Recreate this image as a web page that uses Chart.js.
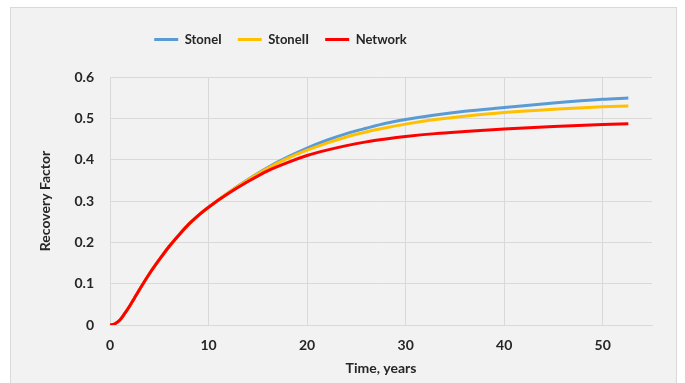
<!DOCTYPE html>
<html>
<head>
<meta charset="utf-8">
<script src="https://cdn.jsdelivr.net/npm/chart.js@4"></script>
<style>
  body { margin: 0; background: #ffffff; }
  #box {
    position: absolute;
    left: 10px;
    top: 7px;
    width: 665px;
    height: 378px;
    border: 1px solid #d9d9d9;
    background: #f2f2f2;
  }
  canvas { display: block; }
</style>
</head>
<body>
<div id="box"><canvas id="chart" width="665" height="378"></canvas></div>
<script>
// time axis (years)
const years = [0, 0.5, 1, 1.5, 2, 2.5, 3, 4, 5, 6, 7, 8, 9, 10, 12, 14, 16, 18, 20, 22, 24, 26, 28, 30, 33, 36, 40, 45, 50, 52.6];

const stoneI = [0, 0.003, 0.012, 0.028, 0.046, 0.066, 0.086, 0.124, 0.158, 0.19, 0.218, 0.244, 0.266, 0.285, 0.32, 0.352, 0.381, 0.406, 0.428, 0.447, 0.463, 0.476, 0.488, 0.497, 0.508, 0.517, 0.526, 0.537, 0.546, 0.549];
const stoneII = [0, 0.003, 0.012, 0.028, 0.046, 0.066, 0.086, 0.124, 0.158, 0.19, 0.218, 0.244, 0.266, 0.285, 0.32, 0.351, 0.379, 0.403, 0.423, 0.44, 0.455, 0.467, 0.477, 0.486, 0.497, 0.505, 0.514, 0.522, 0.528, 0.53];
const network = [0, 0.003, 0.012, 0.028, 0.046, 0.066, 0.086, 0.124, 0.158, 0.19, 0.218, 0.244, 0.266, 0.285, 0.318, 0.347, 0.373, 0.393, 0.41, 0.423, 0.434, 0.443, 0.45, 0.456, 0.463, 0.468, 0.474, 0.48, 0.485, 0.487];

const xTicks = [0, 10, 20, 30, 40, 50];
const yTicks = [0, 0.1, 0.2, 0.3, 0.4, 0.5, 0.6];

const textColor = "#262626";
const gridColor = "#d9d9d9";

function toPoints(values) {
  return values.map((v, i) => ({ x: years[i], y: v }));
}

// legend sits left of centre in the original
const legendShift = {
  id: "legendShift",
  beforeInit(chart) {
    const fit = chart.legend.fit;
    chart.legend.fit = function () {
      fit.bind(chart.legend)();
      this.height = 60;
    };
  },
  afterLayout(chart) {
    chart.legend.right -= 124;
  },
};

new Chart(document.getElementById("chart"), {
  type: "line",
  data: {
    datasets: [
      {
        label: "StoneI",
        data: toPoints(stoneI),
        borderColor: "#5b9bd5",
        backgroundColor: "#5b9bd5",
        borderWidth: 3,
        order: 3,
      },
      {
        label: "StoneII",
        data: toPoints(stoneII),
        borderColor: "#ffc000",
        backgroundColor: "#ffc000",
        borderWidth: 3,
        order: 2,
      },
      {
        label: "Network",
        data: toPoints(network),
        borderColor: "#ff0000",
        backgroundColor: "#ff0000",
        borderWidth: 3,
        order: 1,
      },
    ],
  },
  options: {
    responsive: false,
    animation: false,
    layout: {
      padding: { left: 22, right: 24, top: 9, bottom: 5 },
    },
    elements: {
      point: { radius: 0 },
      line: { cubicInterpolationMode: "monotone" },
    },
    scales: {
      x: {
        type: "linear",
        min: 0,
        max: 55,
        afterFit: (scale) => {
          scale.height = 56;
        },
        afterBuildTicks: (scale) => {
          scale.ticks = xTicks.map((v) => ({ value: v }));
        },
        ticks: {
          padding: 12,
          color: textColor,
          font: { family: "Lato", size: 14, weight: "bold" },
        },
        grid: { color: gridColor, drawTicks: false },
        border: { color: gridColor },
        title: {
          display: true,
          text: "Time, years",
          color: textColor,
          font: { family: "Lato", size: 14, weight: "bold" },
        },
      },
      y: {
        min: 0,
        max: 0.6,
        afterFit: (scale) => {
          scale.width = 77;
        },
        afterBuildTicks: (scale) => {
          scale.ticks = yTicks.map((v) => ({ value: v }));
        },
        ticks: {
          padding: 16,
          color: textColor,
          font: { family: "Lato", size: 14, weight: "bold" },
          callback: (v) => String(Math.round(v * 10) / 10),
        },
        grid: { color: gridColor, drawTicks: false },
        border: { color: gridColor },
        title: {
          display: true,
          text: "Recovery Factor",
          color: textColor,
          font: { family: "Lato", size: 14, weight: "bold" },
        },
      },
    },
    plugins: {
      legend: {
        position: "top",
        labels: {
          usePointStyle: true,
          pointStyle: "line",
          pointStyleWidth: 24,
          boxHeight: 13,
          padding: 16,
          color: textColor,
          font: { family: "Lato", size: 13, weight: "bold" },
          sort: (a, b) => a.datasetIndex - b.datasetIndex,
        },
      },
      tooltip: { enabled: false },
    },
  },
  plugins: [legendShift],
});
</script>
</body>
</html>
